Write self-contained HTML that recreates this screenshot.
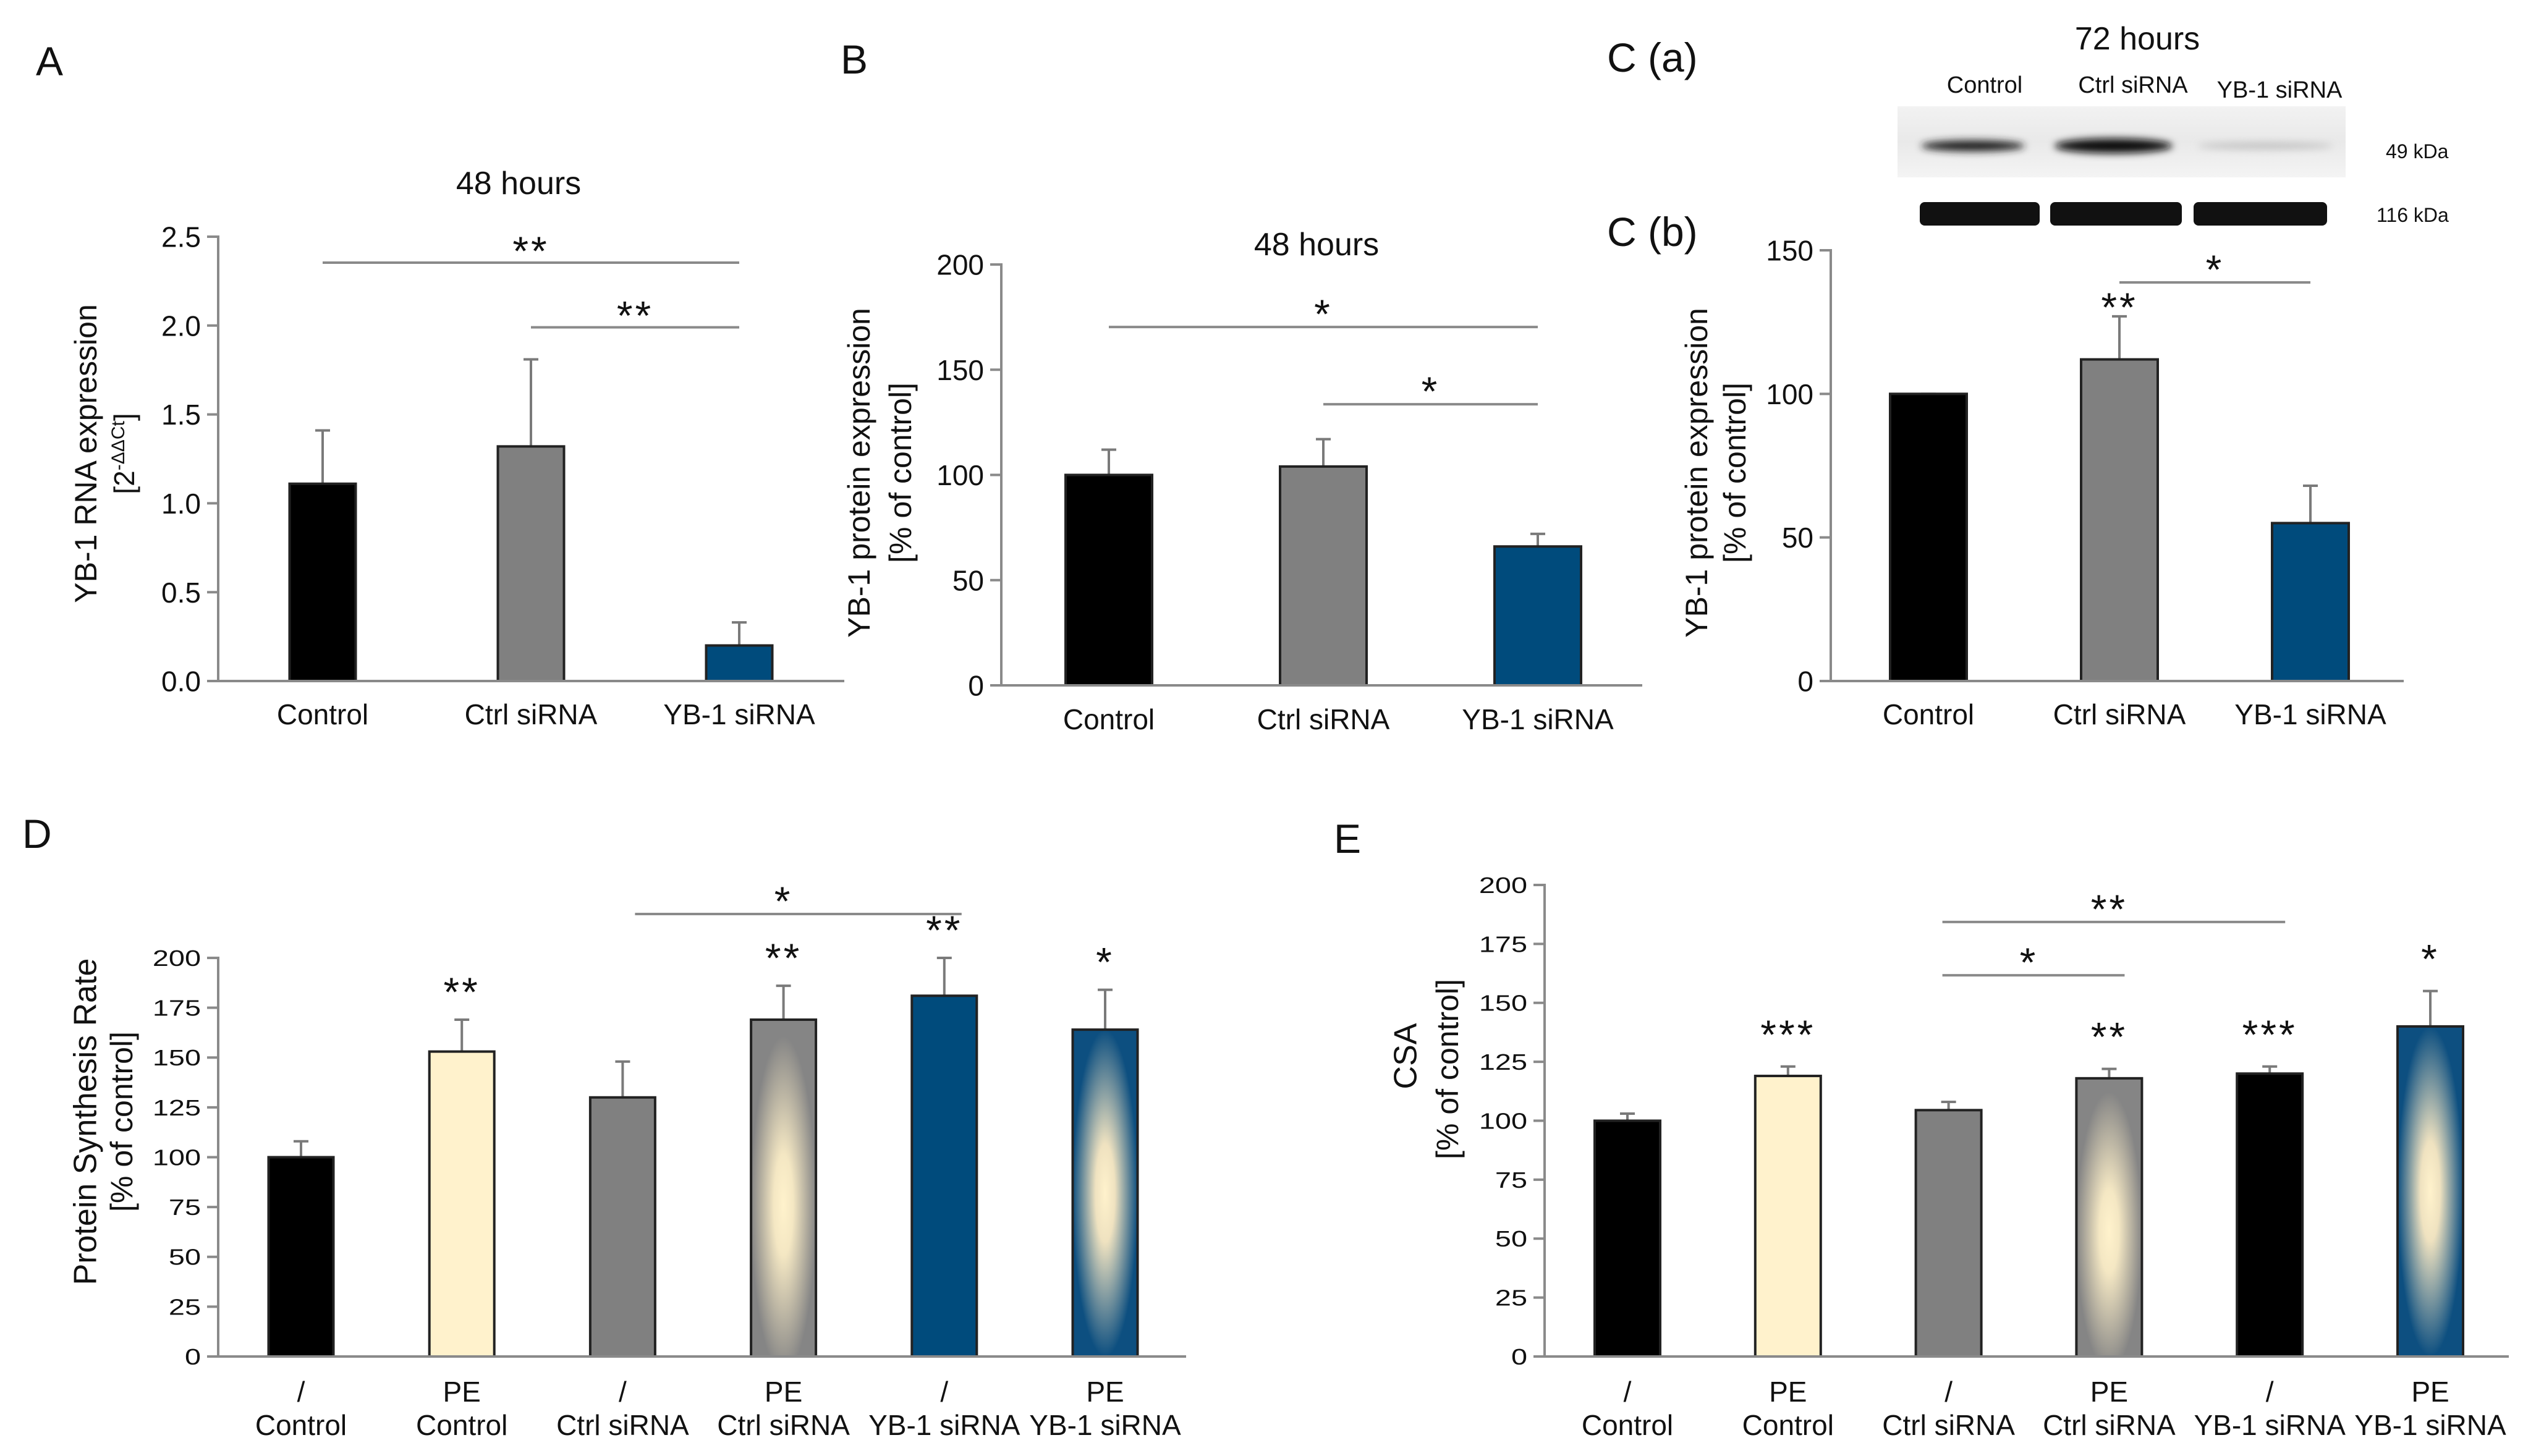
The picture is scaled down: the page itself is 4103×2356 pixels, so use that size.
<!DOCTYPE html>
<html><head><meta charset="utf-8"><style>
html,body{margin:0;padding:0;background:#fff;}
svg{display:block;font-family:"Liberation Sans",Arial,sans-serif;}
</style></head><body>
<svg id="fig" width="4103" height="2356" viewBox="0 0 4103 2356" xmlns="http://www.w3.org/2000/svg">
<defs>
<radialGradient id="gGray" cx="0.5" cy="0.55" r="0.5"><stop offset="0" stop-color="#fff2cc"/><stop offset="0.3" stop-color="#f4e7c3"/><stop offset="1" stop-color="#858585"/></radialGradient>
<radialGradient id="gBlue" cx="0.5" cy="0.5" r="0.5"><stop offset="0" stop-color="#fff2cc"/><stop offset="0.3" stop-color="#efe2c0"/><stop offset="1" stop-color="#0d4f80"/></radialGradient>
<linearGradient id="blotBg" x1="0" y1="0" x2="0" y2="1"><stop offset="0" stop-color="#f2f2f2"/><stop offset="0.5" stop-color="#e9e9e9"/><stop offset="1" stop-color="#f4f4f4"/></linearGradient>
<filter id="blur" x="-20%" y="-100%" width="140%" height="300%"><feGaussianBlur stdDeviation="6"/></filter>
</defs>
<g id="root"></g>
</svg>
<script>
// ---------- data ----------
const catsA = ["Control","Ctrl siRNA","YB-1 siRNA"];
const valsA = [1.11, 1.32, 0.20];
const errA = [1.41, 1.81, 0.33];
const ticksA = ["0.0","0.5","1.0","1.5","2.0","2.5"];
const sigA = [[0,2,2.354,"**"],[1,2,1.99,"**"]];

const catsB = ["Control","Ctrl siRNA","YB-1 siRNA"];
const valsB = [100, 104, 66];
const errB = [112, 117, 72];
const ticksB = ["0","50","100","150","200"];
const sigB = [[0,2,170.3,"*"],[1,2,133.6,"*"]];

const catsC = ["Control","Ctrl siRNA","YB-1 siRNA"];
const valsC = [100, 112, 55];
const errC = [100, 127, 68];
const ticksC = ["0","50","100","150"];
const sigC = [[1,2,138.8,"*"]];
const starsC = [null, "**", null];

const catsD1 = ["/","PE","/","PE","/","PE"];
const catsD2 = ["Control","Control","Ctrl siRNA","Ctrl siRNA","YB-1 siRNA","YB-1 siRNA"];
const valsD = [100, 153, 130, 169, 181, 164];
const errD = [108, 169, 148, 186, 200, 184];
const ticksD = ["0","25","50","75","100","125","150","175","200"];
const sigD = [[2,4,222,"*"]];
const starsD = [null,"**",null,"**","**","*"];

const catsE1 = ["/","PE","/","PE","/","PE"];
const catsE2 = ["Control","Control","Ctrl siRNA","Ctrl siRNA","YB-1 siRNA","YB-1 siRNA"];
const valsE = [100, 119, 104.5, 118, 120, 140];
const errE = [103, 123, 108, 122, 123, 155];
const ticksE = ["0","25","50","75","100","125","150","175","200"];
const sigE = [[2,4,184.3,"**"],[2,3,161.7,"*"]];
const starsE = [null,"***",null,"**","***","*"];

// ---------- helpers ----------
const NS="http://www.w3.org/2000/svg";
const root=document.getElementById('root');
function mk(tag,attrs,parent){const e=document.createElementNS(NS,tag);for(const k in attrs)e.setAttribute(k,attrs[k]);(parent||root).appendChild(e);return e;}
function txt(s,x,y,fs,anchor,parent,extra){const t=mk('text',Object.assign({x:x,y:y,'font-size':fs,'text-anchor':anchor||'middle',fill:'#111'},extra||{}),parent);t.textContent=s;return t;}

function panel(cfg){
  const g=mk('g',{});
  
  
  const ys=v=>cfg.y0-(v/cfg.vmax)*(cfg.y0-cfg.yTop);
  const xs=i=>cfg.first+i*cfg.step;
  cfg.ticks.forEach((lab,i)=>{
    const v=cfg.vmax*i/(cfg.ticks.length-1);
    const y=ys(v);
    const tm=mk('line',{x1:cfg.x0-18,x2:cfg.x0,y1:y,y2:y,stroke:'#8a8a8a','stroke-width':4},g);
    
    
    let t;
    if(cfg.narrow){
      t=txt(lab,0,0,cfg.tfs,'end',g,{transform:`translate(${cfg.x0-28},${y+cfg.tfs*0.36}) scale(1.3,1)`});
    } else {
      t=txt(lab,cfg.x0-28,y+cfg.tfs*0.36,cfg.tfs,'end',g);
    }
    
    
  });
  const ya=mk('line',{x1:cfg.x0,x2:cfg.x0,y1:cfg.yTop-2,y2:cfg.y0,stroke:'#8a8a8a','stroke-width':4},g);
  
  
  cfg.vals.forEach((v,i)=>{
    const cx=xs(i), w=cfg.bw, yt=ys(v);
    const eb=mk('line',{x1:cx,x2:cx,y1:ys(cfg.err[i]),y2:yt,stroke:'#7a7a7a','stroke-width':4},g);
    
    
    const ec=mk('line',{x1:cx-12,x2:cx+12,y1:ys(cfg.err[i]),y2:ys(cfg.err[i]),stroke:'#7a7a7a','stroke-width':4},g);
    
    
    const r=mk('rect',{x:cx-w/2,y:yt,width:w,height:cfg.y0-yt,fill:cfg.fills[i],stroke:'#222','stroke-width':4},g);
    
    
    if(cfg.stars&&cfg.stars[i]){
      const st=txt(cfg.stars[i],cx,ys(cfg.err[i])-cfg.starGap+16,cfg.sfs,'middle',g,{'letter-spacing':'4'});
      
      
    }
  });
  const xa=mk('line',{x1:cfg.x0-18,x2:cfg.x1,y1:cfg.y0,y2:cfg.y0,stroke:'#8a8a8a','stroke-width':4},g);
  
  
  cfg.sig.forEach(s=>{
    const y=ys(s[2]);
    const l=mk('line',{x1:xs(s[0])+(cfg.sigOff||0),x2:xs(s[1])+(cfg.sigOff2||0),y1:y,y2:y,stroke:'#8a8a8a','stroke-width':4},g);
    
    
    const t=txt(s[3],(xs(s[0])+xs(s[1]))/2,y-cfg.sigTextGap+16,cfg.sfs,'middle',g,{'letter-spacing':'4'});
    
    
  });
  cfg.cats.forEach((c,i)=>{
    const t=txt(c,xs(i),cfg.labY,cfg.lfs,'middle',g);
    
    
  });
  if(cfg.cats2) cfg.cats2.forEach((c,i)=>{
    const t=txt(c,xs(i),cfg.labY2,cfg.lfs,'middle',g);
    
    
  });
  return g;
}
function rotText(s,cx,cy,fs,name){
  const t=mk('text',{x:0,y:0,'font-size':fs,'text-anchor':'middle',fill:'#111',transform:`translate(${cx+fs*0.36},${cy}) rotate(-90)`});
  t.textContent=s;
  
  
  return t;
}

const K='#000', G='#808080', B='#004b7c', CR='#fff2cc';
const SF=66;
panel({name:'panel-a-chart',x0:353,x1:1366,yTop:383,y0:1102,vmax:2.5,ticks:ticksA,vals:valsA,err:errA,cats:catsA,
  first:522,step:337,bw:107,fills:[K,G,B],sig:sigA,sigTextGap:12,sfs:SF,tfs:46,lfs:46,labY:1172});
panel({name:'panel-b-chart',x0:1620,x1:2657,yTop:428,y0:1109,vmax:200,ticks:ticksB,vals:valsB,err:errB,cats:catsB,
  first:1794,step:347,bw:140,fills:[K,G,B],sig:sigB,sigTextGap:14,sfs:SF,tfs:46,lfs:46,labY:1180});
panel({name:'panel-c-chart',x0:2962,x1:3889,yTop:405,y0:1102,vmax:150,ticks:ticksC,vals:valsC,err:errC,cats:catsC,stars:starsC,starGap:8,
  first:3120,step:309,bw:124,fills:[K,G,B],sig:sigC,sigTextGap:14,sfs:SF,tfs:46,lfs:46,labY:1172});
panel({name:'panel-d-chart',x0:353,x1:1919,yTop:1550,y0:2195,vmax:200,ticks:ticksD,vals:valsD,err:errD,cats:catsD1,cats2:catsD2,stars:starsD,starGap:38,
  first:487,step:260.2,bw:105,fills:[K,CR,G,'url(#gGray)',B,'url(#gBlue)'],sig:sigD,sigOff:20,sigOff2:28,sigTextGap:14,sfs:SF,tfs:36,narrow:true,lfs:46,labY:2268,labY2:2322});
panel({name:'panel-e-chart',x0:2499,x1:4059,yTop:1432,y0:2195,vmax:200,ticks:ticksE,vals:valsE,err:errE,cats:catsE1,cats2:catsE2,stars:starsE,starGap:45,
  first:2633,step:259.8,bw:106,fills:[K,CR,G,'url(#gGray)',K,'url(#gBlue)'],sig:sigE,sigOff:-10,sigOff2:25,sigTextGap:14,sfs:SF,tfs:36,narrow:true,lfs:46,labY:2268,labY2:2322});

rotText("YB-1 RNA expression",138,734,50,'y-axis-title');
{const t=mk('text',{x:0,y:0,'font-size':46,'text-anchor':'middle',fill:'#111',transform:`translate(${201+16},734) rotate(-90)`});
 
 
 t.appendChild(document.createTextNode('[2'));
 const sp=mk('tspan',{'font-size':30,dy:-16},t);sp.textContent='-ΔΔCt';
 const sp2=mk('tspan',{dy:16},t);sp2.textContent=']';}
rotText("YB-1 protein expression",1389,765,50,'y-axis-title');
rotText("[% of control]",1456,765,50,'y-axis-unit');
rotText("YB-1 protein expression",2744,765,50,'y-axis-title');
rotText("[% of control]",2806,765,50,'y-axis-unit');
rotText("Protein Synthesis Rate",137,1815,52,'y-axis-title');
rotText("[% of control]",196,1815,50,'y-axis-unit');
rotText("CSA",2273,1709,52,'y-axis-title');
rotText("[% of control]",2341,1730,50,'y-axis-unit');

[["A",58,122],["B",1360,119],["C (a)",2600,116],["C (b)",2600,398],["D",36,1372],["E",2158,1380]].forEach(p=>{
  const t=txt(p[0],p[1],p[2],66,'start');
  
  
});
[["48 hours",839,314],["48 hours",2130,413],["72 hours",3458,80]].forEach(p=>{
  const t=txt(p[0],p[1],p[2],52,'middle');
  
  
});

const blot=mk('g',{});


mk('rect',{x:3070,y:172,width:725,height:115,fill:'url(#blotBg)'},blot);
[[3108,3276,'#222',18],[3324,3515,'#111',24],[3555,3775,'#c4c4c4',12]].forEach(b=>{
  const e=mk('ellipse',{cx:(b[0]+b[1])/2,cy:236,rx:(b[1]-b[0])/2,ry:b[3]/2,fill:b[2],filter:'url(#blur)'},blot);
  
  
});
[[3106,3300],[3317,3530],[3549,3765]].forEach(b=>{
  const r=mk('rect',{x:b[0],y:327,width:b[1]-b[0],height:38,rx:8,fill:'#111'},blot);
  
  
});
[["Control",3211,150],["Ctrl siRNA",3451,150],["YB-1 siRNA",3688,158]].forEach(p=>{
  const t=txt(p[0],p[1],p[2],38,'middle');
  
  
});
[["49 kDa",3860,256],["116 kDa",3845,359]].forEach(p=>{
  const t=txt(p[0],p[1],p[2],32,'start');
  
  
});
</script>
</body></html>
